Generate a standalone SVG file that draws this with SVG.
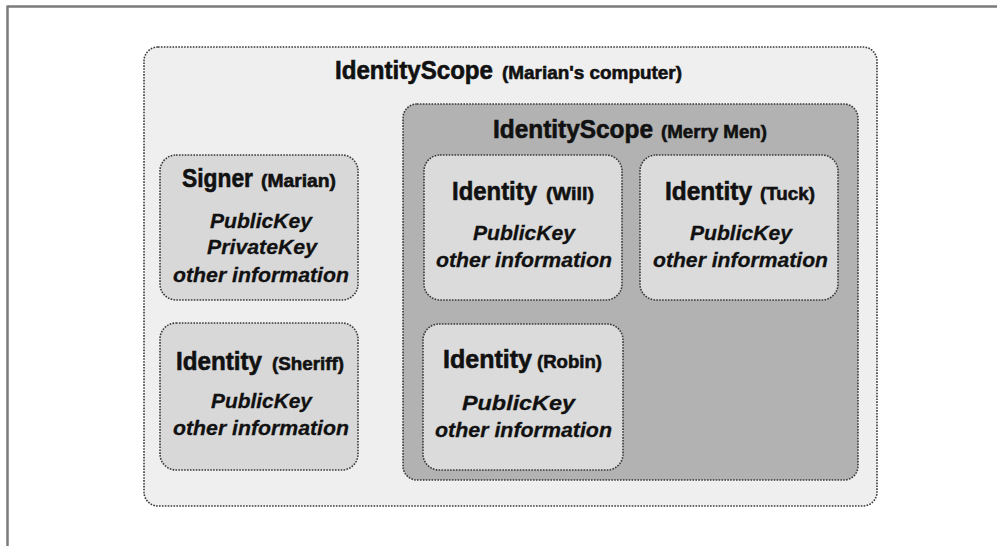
<svg xmlns="http://www.w3.org/2000/svg" width="997" height="546" viewBox="0 0 997 546">
<style>
.box{stroke:#3a3a3a;stroke-width:1.6;stroke-dasharray:1.6 1.3}
.outer{fill:#efefef}
.light{fill:#d8d8d8}
.dark{fill:#b2b2b2}
.inner{fill:#dbdbdb}
.h{font-family:"Liberation Sans",Arial,sans-serif;font-weight:bold;fill:#111;stroke:#111;stroke-width:0.6}
.big{font-size:25px}
.mid{font-size:26px}
.par{font-size:19px}
.it{font-family:"Liberation Sans",Arial,sans-serif;font-weight:bold;font-style:italic;font-size:21px;fill:#111;stroke:#111;stroke-width:0.3}
</style>
<g id="frame">
<line x1="7.5" y1="6.5" x2="997" y2="6.5" stroke="#7a7a7a" stroke-width="2.5"/>
<line x1="7.5" y1="5.5" x2="7.5" y2="546" stroke="#7a7a7a" stroke-width="2.5"/>
</g>
<g id="scope-marian">
<rect class="box outer" x="144" y="47" width="733" height="459" rx="14"/>
<text class="h big" x="335" y="79" textLength="158" lengthAdjust="spacingAndGlyphs">IdentityScope</text>
<text class="h par" x="502" y="79" textLength="180" lengthAdjust="spacingAndGlyphs">(Marian's computer)</text>
</g>
<g id="signer-marian">
<rect class="box light" x="160" y="155" width="198" height="145" rx="16"/>
<text class="h mid" x="182" y="187" textLength="71" lengthAdjust="spacingAndGlyphs">Signer</text>
<text class="h par" x="261" y="187" textLength="75" lengthAdjust="spacingAndGlyphs">(Marian)</text>
<text class="it" x="210" y="228" textLength="102" lengthAdjust="spacingAndGlyphs">PublicKey</text>
<text class="it" x="207" y="254" textLength="110" lengthAdjust="spacingAndGlyphs">PrivateKey</text>
<text class="it" x="173" y="282" textLength="176" lengthAdjust="spacingAndGlyphs">other information</text>
</g>
<g id="identity-sheriff">
<rect class="box light" x="160" y="323" width="198" height="147" rx="16"/>
<text class="h mid" x="176" y="370" textLength="86" lengthAdjust="spacingAndGlyphs">Identity</text>
<text class="h par" x="272" y="370" textLength="72" lengthAdjust="spacingAndGlyphs">(Sheriff)</text>
<text class="it" x="211" y="408" textLength="101" lengthAdjust="spacingAndGlyphs">PublicKey</text>
<text class="it" x="173" y="435" textLength="176" lengthAdjust="spacingAndGlyphs">other information</text>
</g>
<g id="scope-merry-men">
<rect class="box dark" x="403" y="104" width="455" height="376" rx="14"/>
<text class="h big" x="493" y="138" textLength="160" lengthAdjust="spacingAndGlyphs">IdentityScope</text>
<text class="h par" x="661" y="138" textLength="106" lengthAdjust="spacingAndGlyphs">(Merry Men)</text>
</g>
<g id="identity-will">
<rect class="box inner" x="424" y="155" width="198" height="145" rx="16"/>
<text class="h mid" x="452" y="200" textLength="85" lengthAdjust="spacingAndGlyphs">Identity</text>
<text class="h par" x="546" y="200" textLength="48" lengthAdjust="spacingAndGlyphs">(Will)</text>
<text class="it" x="473" y="240" textLength="102" lengthAdjust="spacingAndGlyphs">PublicKey</text>
<text class="it" x="436" y="267" textLength="176" lengthAdjust="spacingAndGlyphs">other information</text>
</g>
<g id="identity-tuck">
<rect class="box inner" x="640" y="155" width="198" height="145" rx="16"/>
<text class="h mid" x="665" y="200" textLength="87" lengthAdjust="spacingAndGlyphs">Identity</text>
<text class="h par" x="760" y="200" textLength="55" lengthAdjust="spacingAndGlyphs">(Tuck)</text>
<text class="it" x="690" y="240" textLength="102" lengthAdjust="spacingAndGlyphs">PublicKey</text>
<text class="it" x="653" y="267" textLength="175" lengthAdjust="spacingAndGlyphs">other information</text>
</g>
<g id="identity-robin">
<rect class="box inner" x="423" y="324" width="200" height="146" rx="16"/>
<text class="h mid" x="443" y="368" textLength="89" lengthAdjust="spacingAndGlyphs">Identity</text>
<text class="h par" x="537" y="368" textLength="65" lengthAdjust="spacingAndGlyphs">(Robin)</text>
<text class="it" x="462" y="410" textLength="113" lengthAdjust="spacingAndGlyphs">PublicKey</text>
<text class="it" x="435" y="437" textLength="177" lengthAdjust="spacingAndGlyphs">other information</text>
</g>
<g id="connectors"/>
</svg>
